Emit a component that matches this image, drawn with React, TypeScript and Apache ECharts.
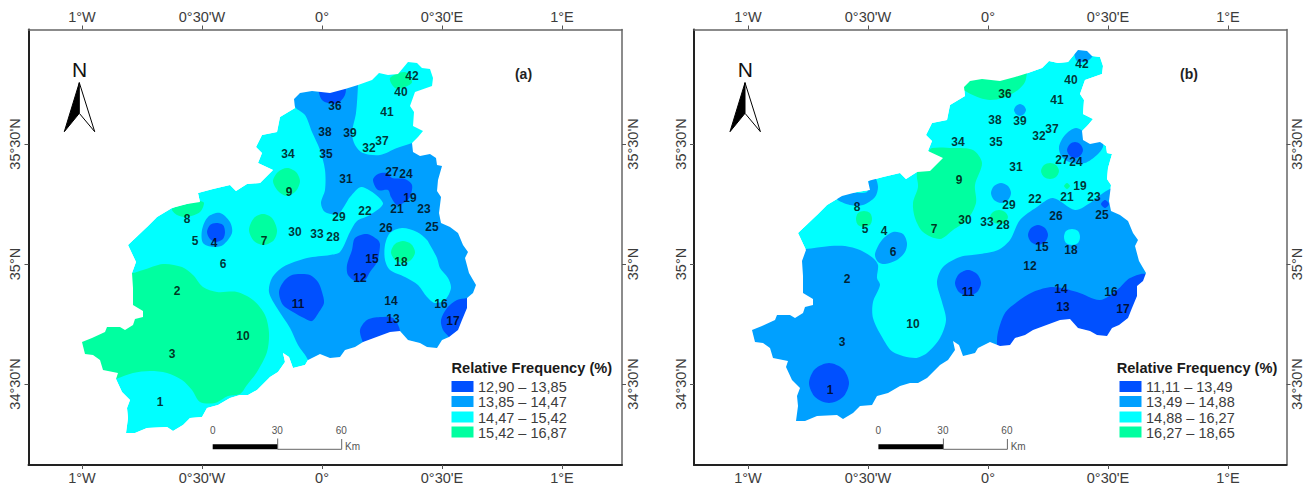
import React, { useEffect, useRef } from "react";
import * as echarts from "echarts";

// Map coordinates are quarter arc-minutes from 0 deg E / 35 deg N (240 units = 1 degree).
type Ring = number[][];

const lonTicks = [-240, -120, 0, 120, 240];
const lonLabels = ["1°W", "0°30'W", "0°", "0°30'E", "1°E"];
const latTicks = [-120, 0, 120];
const latLabels = ["34°30'N", "35°N", "35°30'N"];

const regionOutline: Ring = [
  [-28,165],[-22,171],[-10,173],[8,171],[23,175],[36,179],[50,184],[57,191],[66,189],[76,190],[86,202],[95,201],[100,196],[108,195],[111,186],[110,178],[93,172],[88,158],[92,152],[91,138],[101,133],[96,127],[90,121],[91,112],[98,108],[108,110],[114,106],[115,99],[120,98],[116,84],[115,73],[119,67],[117,51],[119,41],[128,37],[136,31],[141,19],[146,12],[143,6],[147,-9],[154,-21],[151,-29],[145,-34],[145,-44],[140,-56],[136,-66],[127,-73],[120,-76],[115,-84],[105,-83],[98,-79],[86,-76],[78,-67],[68,-68],[41,-78],[33,-83],[23,-86],[18,-93],[8,-94],[-2,-90],[-14,-96],[-17,-101],[-29,-104],[-33,-93],[-39,-89],[-37,-98],[-44,-108],[-52,-113],[-65,-126],[-74,-131],[-82,-131],[-92,-134],[-104,-141],[-115,-144],[-120,-153],[-132,-154],[-139,-161],[-149,-167],[-155,-163],[-175,-164],[-187,-169],[-196,-169],[-194,-154],[-195,-144],[-192,-136],[-200,-128],[-206,-115],[-204,-109],[-219,-106],[-222,-96],[-229,-91],[-237,-90],[-240,-78],[-230,-74],[-217,-68],[-215,-63],[-202,-63],[-197,-66],[-189,-61],[-187,-55],[-179,-53],[-179,-47],[-189,-41],[-189,-24],[-190,-9],[-186,2],[-194,19],[-175,37],[-165,47],[-150,56],[-135,60],[-122,62],[-124,71],[-109,75],[-92,79],[-86,73],[-75,80],[-62,81],[-49,94],[-64,101],[-60,111],[-66,117],[-60,129],[-45,132],[-42,147],[-27,156],
];

const stationIds = [1,2,3,4,5,6,7,8,9,10,11,12,13,14,15,16,17,18,19,21,22,23,24,25,26,27,28,29,30,31,32,33,34,35,36,37,38,39,40,41,42];
const stationLon = [-162,-145,-150,-108,-127,-99,-58,-135,-33,-79,-24,38,71,69,50,119,131,79,88,75,43,102,84,110,64,70,11,17,-27,24,47,-5,-34,4,13,60,3,28,79,65,90];
const stationLat = [-138,-27,-90,21,23,0,23,45,72,-72,-40,-14,-55,-37,5,-40,-57,2,66,55,53,55,90,37,36,92,27,47,32,85,116,30,110,110,158,123,132,131,172,152,188];

// panel (a) classes
const a_mid: Ring = [[-37,179],[-27,157],[-17,149],[-10,132],[-2,114],[3,94],[3,74],[-1,61],[3,52],[16,50],[23,59],[28,67],[40,77],[61,61],[48,49],[35,43],[28,32],[18,12],[8,9],[-15,6],[-39,-3],[-50,-14],[-53,-28],[-45,-44],[-32,-64],[-24,-81],[-14,-96],[-10,-115],[180,-115],[180,190],[-37,190]];
const a_cyanNorth: Ring = [[36,194],[36,179],[34,151],[30,131],[33,119],[41,111],[58,109],[75,116],[90,121],[118,134],[118,204],[33,204]];
const a_cyan18: Ring = [[63,19],[68,31],[80,36],[95,32],[105,24],[108,19],[115,6],[118,-4],[126,-14],[129,-24],[123,-36],[113,-39],[105,-33],[96,-21],[83,-13],[68,-6],[63,4]];
const a_mid4: Ring = [[-120,34],[-114,47],[-102,51],[-92,42],[-90,31],[-99,19],[-109,17],[-119,21]];
const a_green42: Ring = [[68,186],[83,192],[90,182],[83,177],[73,176]];
const a_green18: Ring = [[69,12],[73,20],[81,23],[89,20],[93,12],[89,4],[81,1],[73,4]];
const a_green8: Ring = [[-150,55],[-135,60],[-122,63],[-118,61],[-122,52],[-135,47],[-145,49]];
const a_green9: Ring = [[-49,83],[-44,92],[-35,96],[-26,92],[-22,83],[-26,73],[-35,68],[-44,73]];
const a_green7: Ring = [[-59,50],[-50,46],[-45,34],[-48,24],[-58,19],[-68,23],[-73,34],[-68,46]];
const a_greenSW: Ring = [[-202,-6],[-190,-9],[-179,-6],[-159,0],[-140,-3],[-129,-11],[-119,-23],[-105,-28],[-85,-28],[-69,-36],[-57,-51],[-53,-69],[-55,-88],[-65,-108],[-75,-121],[-82,-130],[-94,-132],[-107,-139],[-122,-138],[-130,-126],[-140,-116],[-155,-109],[-172,-107],[-189,-109],[-206,-115],[-222,-121],[-262,-76]];
const a_dark15: Ring = [[58,19],[55,2],[48,-8],[43,-16],[35,-18],[26,-11],[25,-1],[30,14],[33,26],[45,30],[56,24]];
const a_dark13: Ring = [[38,-66],[41,-79],[43,-86],[73,-81],[78,-67],[71,-54],[58,-53],[45,-56]];
const a_dark17: Ring = [[145,-34],[135,-36],[125,-44],[119,-56],[121,-66],[127,-73],[133,-81],[168,-76],[158,-31]];
const a_dark11: Ring = [[-22,-10],[-12,-11],[-4,-18],[0,-28],[2,-39],[-3,-48],[-10,-57],[-18,-54],[-29,-48],[-39,-41],[-43,-28],[-38,-17],[-30,-11]];
const a_dark36: Ring = [[-3,171],[0,164],[6,161],[16,161],[23,169],[23,177],[8,184],[-3,179]];
const a_dark24: Ring = [[51,84],[56,90],[65,91],[70,86],[83,85],[90,79],[88,67],[83,62],[75,59],[69,67],[66,74],[56,74]];
const a_dark4: Ring = [[-115,32],[-112,39],[-106,41],[-99,39],[-97,32],[-99,25],[-106,22],[-112,25]];

// panel (b) classes
const b_mid: Ring = [[-270,12],[-183,15],[-158,18],[-143,18],[-128,14],[-115,6],[-110,-1],[-111,-14],[-108,-21],[-115,-38],[-115,-54],[-106,-73],[-95,-88],[-73,-94],[-61,-89],[-48,-74],[-42,-56],[-46,-38],[-51,-18],[-45,-3],[-28,7],[-8,10],[10,14],[22,24],[32,44],[49,57],[65,66],[87,54],[102,61],[120,74],[142,79],[192,-36],[12,-186],[-270,-186]];
const b_mid6: Ring = [[-106,24],[-95,32],[-85,30],[-81,21],[-83,12],[-91,4],[-103,0],[-110,2],[-113,10]];
const b_mid8: Ring = [[-151,65],[-140,71],[-121,72],[-120,82],[-113,86],[-110,77],[-113,67],[-125,59],[-138,59]];
const b_mid29: Ring = [[3,71],[6,78],[13,81],[20,78],[23,71],[20,64],[13,61],[6,64]];
const b_mid39: Ring = [[26,154],[28,158],[32,160],[36,158],[38,154],[36,150],[32,148],[28,150]];
const b_mid24: Ring = [[71,117],[77,129],[88,136],[100,130],[114,125],[115,117],[109,109],[97,101],[84,101],[74,107]];
const b_mid42: Ring = [[88,204],[97,202],[104,207],[107,219],[87,224]];
const b_cyan18: Ring = [[76,27],[78,33],[84,35],[90,33],[92,27],[90,21],[84,19],[78,21]];
const b_green36: Ring = [[-21,172],[-8,166],[2,164],[15,166],[30,174],[37,182],[39,191],[42,204],[-28,204],[-30,179]];
const b_green97: Ring = [[-60,111],[-56,116],[-35,116],[-15,114],[-6,101],[-13,79],[-12,61],[-21,44],[-35,34],[-48,25],[-65,32],[-73,46],[-75,61],[-70,77],[-71,91],[-63,102]];
const b_green5: Ring = [[-132,45],[-130,51],[-124,53],[-118,51],[-116,45],[-118,39],[-124,37],[-130,39]];
const b_green28: Ring = [[2,47],[5,52],[11,54],[17,52],[20,47],[17,42],[11,40],[5,42]];
const b_green27: Ring = [[53,93],[56,99],[62,101],[68,99],[71,93],[68,87],[62,85],[56,87]];
const b_green19: Ring = [[76,78],[79,81],[82,78],[79,75]];
const b_dark13: Ring = [[10,-68],[17,-49],[29,-38],[45,-28],[65,-23],[89,-28],[112,-36],[129,-26],[142,-14],[158,-10],[177,-26],[142,-106],[12,-106],[9,-81]];
const b_dark1: Ring = [[-179,-119],[-173,-105],[-159,-99],[-145,-105],[-139,-119],[-145,-133],[-159,-139],[-173,-133]];
const b_dark11: Ring = [[-33,-19],[-29,-10],[-20,-6],[-11,-10],[-7,-19],[-11,-28],[-20,-32],[-29,-28]];
const b_dark15: Ring = [[40,29],[43,36],[50,39],[57,36],[60,29],[57,22],[50,19],[43,22]];
const b_dark25: Ring = [[113,60],[117,64],[121,60],[117,56]];
const b_dark24: Ring = [[79,114],[82,120],[87,122],[92,120],[95,114],[92,108],[87,106],[82,108]];

const legendA = ["12,90 – 13,85", "13,85 – 14,47", "14,47 – 15,42", "15,42 – 16,87"];
const legendB = ["11,11 – 13,49", "13,49 – 14,88", "14,88 – 16,27", "16,27 – 18,65"];
const legendTitle = "Relative Frequency (%)";
const scaleLabels = ["0", "30", "60"];

const DARK = "#0050FF";
const MID = "#00A0FF";
const CYAN = "#00FFFF";
const GREEN = "#00FFA0";
const classColors = [DARK, MID, CYAN, GREEN];
const FONT = "'Liberation Sans', Arial, sans-serif";
const TXT = "#3c3c3c";

// Panel (b) was georeferenced slightly off from its graticule in the source figure.
const shiftB = [4, 12];

type Zone = { ring: Ring; fill: string };
const zonesA: Zone[] = [
  { ring: a_mid, fill: MID }, { ring: a_cyanNorth, fill: CYAN }, { ring: a_cyan18, fill: CYAN }, { ring: a_mid4, fill: MID },
  { ring: a_green42, fill: GREEN }, { ring: a_green18, fill: GREEN }, { ring: a_green8, fill: GREEN }, { ring: a_green9, fill: GREEN }, { ring: a_green7, fill: GREEN }, { ring: a_greenSW, fill: GREEN },
  { ring: a_dark15, fill: DARK }, { ring: a_dark13, fill: DARK }, { ring: a_dark17, fill: DARK }, { ring: a_dark11, fill: DARK }, { ring: a_dark36, fill: DARK }, { ring: a_dark24, fill: DARK }, { ring: a_dark4, fill: DARK },
];
const zonesB: Zone[] = [
  { ring: b_mid, fill: MID }, { ring: b_mid6, fill: MID }, { ring: b_mid8, fill: MID }, { ring: b_mid29, fill: MID }, { ring: b_mid39, fill: MID }, { ring: b_mid24, fill: MID }, { ring: b_mid42, fill: MID },
  { ring: b_cyan18, fill: CYAN },
  { ring: b_green36, fill: GREEN }, { ring: b_green97, fill: GREEN }, { ring: b_green5, fill: GREEN }, { ring: b_green28, fill: GREEN }, { ring: b_green27, fill: GREEN }, { ring: b_green19, fill: GREEN },
  { ring: b_dark13, fill: DARK }, { ring: b_dark1, fill: DARK }, { ring: b_dark11, fill: DARK }, { ring: b_dark15, fill: DARK }, { ring: b_dark25, fill: DARK }, { ring: b_dark24, fill: DARK },
];

const yMin = -201, yMax = 234.5;
const panels = [
  { left: 28.5, width: 593.5, xMin: -293.5, xMax: 300, shift: [0, 0], zones: zonesA, dx: 0, tag: "(a)", tagX: 523.5, legend: legendA, legendX: 451.5, titleX: 451.5, legendTextX: 478 },
  { left: 694, width: 592.5, xMin: -294, xMax: 298.5, shift: shiftB, zones: zonesB, dx: 665.7, tag: "(b)", tagX: 1189, legend: legendB, legendX: 1119.5, titleX: 1116.7, legendTextX: 1146 },
];

function polySeries(i: number, rings: { ring: Ring; fill: string; smooth?: number }[]) {
  return {
    type: "custom", coordinateSystem: "cartesian2d", xAxisIndex: i * 2, yAxisIndex: i * 2, clip: true, silent: true,
    data: rings.map((r, k) => [r.ring[0][0], r.ring[0][1], k]),
    encode: { x: 0, y: 1 },
    renderItem: (p: any, api: any) => {
      const r = rings[p.dataIndex];
      return { type: "polygon", shape: { points: r.ring.map((q) => api.coord(q)), smooth: r.smooth ?? 0 }, style: { fill: r.fill } };
    },
  };
}

function buildOption() {
  const grid: any[] = [], xAxis: any[] = [], yAxis: any[] = [], series: any[] = [], elements: any[] = [];
  const tickCommon = (line: any) => ({
    axisLine: { show: true, onZero: false, lineStyle: line },
    splitLine: { show: false },
    z: 10,
  });
  const labelStyle = { color: TXT, fontFamily: FONT, fontSize: 14.5 };
  const lonFmt = (v: number) => lonLabels[lonTicks.indexOf(v)] ?? "";
  const latFmt = (v: number) => latLabels[latTicks.indexOf(v)] ?? "";

  panels.forEach((p, i) => {
    grid.push({ left: p.left, top: 29.5, width: p.width, height: yMax - yMin, containLabel: false });
    ["bottom", "top"].forEach((pos) => {
      xAxis.push({
        type: "value", gridIndex: i, position: pos, min: p.xMin, max: p.xMax,
        ...tickCommon(pos === "bottom" ? { color: "#222", width: 2 } : { color: "#666", width: 1.5 }),
        axisTick: { show: true, length: 4, customValues: lonTicks, lineStyle: { color: "#555" } },
        axisLabel: { show: true, customValues: lonTicks, formatter: lonFmt, margin: 5, ...labelStyle },
      });
    });
    ["left", "right"].forEach((pos) => {
      yAxis.push({
        type: "value", gridIndex: i, position: pos, min: yMin, max: yMax,
        ...tickCommon(pos === "left" ? { color: "#222", width: 2 } : { color: "#666", width: 1.5 }),
        axisTick: { show: true, length: 4, customValues: latTicks, lineStyle: { color: "#555" } },
        axisLabel: { show: true, customValues: latTicks, formatter: latFmt, rotate: 90, margin: pos === "left" ? 6 : 3, ...labelStyle },
      });
    });

    const outline = regionOutline.map((q) => [q[0] + p.shift[0], q[1] + p.shift[1]]);
    const maskRing: Ring = [[p.xMin, yMax], [p.xMin, yMin], [p.xMax, yMin], [p.xMax, yMax], [p.xMin, yMax], ...outline, outline[0]];
    series.push(polySeries(i, [
      { ring: outline, fill: CYAN },
      ...p.zones.map((z) => ({ ...z, smooth: 0.3 })),
      { ring: maskRing, fill: "#fff" },
    ]));
    series.push({
      type: "scatter", xAxisIndex: i * 2, yAxisIndex: i * 2, symbol: "circle", symbolSize: 1, silent: true,
      itemStyle: { color: "rgba(0,0,0,0)" },
      data: stationIds.map((id, k) => ({ name: String(id), value: [stationLon[k] + p.shift[0], stationLat[k] + p.shift[1]] })),
      label: { show: true, position: "inside", formatter: "{b}", color: "#000", fontFamily: FONT, fontWeight: "bold", fontSize: 12 },
      labelLayout: { hideOverlap: false },
      z: 5,
    });

    // north arrow
    const ax = p.dx;
    elements.push({ type: "text", x: 79.7 + ax, y: 69.5, style: { text: "N", fill: "#111", font: `21px ${FONT}`, align: "center", verticalAlign: "middle" } });
    elements.push({ type: "polygon", shape: { points: [[79.3 + ax, 82.7], [79.3 + ax, 113.3], [64.3 + ax, 131.7]] }, style: { fill: "#000", stroke: "#000", lineWidth: 1 } });
    elements.push({ type: "polygon", shape: { points: [[79.3 + ax, 82.7], [79.3 + ax, 113.3], [94.7 + ax, 131.7]] }, style: { fill: "#fff", stroke: "#000", lineWidth: 1 } });
    elements.push({ type: "text", x: p.tagX, y: 74, style: { text: p.tag, fill: "#222", font: `bold 14px ${FONT}`, align: "center", verticalAlign: "middle" } });

    // legend
    elements.push({ type: "text", x: p.titleX, y: 368, style: { text: legendTitle, fill: "#1a1a1a", font: `bold 14.6px ${FONT}`, align: "left", verticalAlign: "middle" } });
    [381, 396, 411.5, 426.5].forEach((ty, k) => {
      elements.push({ type: "rect", shape: { x: p.legendX, y: ty, width: 22, height: 11 }, style: { fill: classColors[k] } });
      elements.push({ type: "text", x: p.legendTextX, y: ty + 6, style: { text: p.legend[k], fill: TXT, font: `14.5px ${FONT}`, align: "left", verticalAlign: "middle" } });
    });

    // scale bar
    elements.push({ type: "rect", shape: { x: 212.7 + ax, y: 444.3, width: 65, height: 5 }, style: { fill: "#000" } });
    elements.push({ type: "line", shape: { x1: 277.7 + ax, y1: 449.3, x2: 341.7 + ax, y2: 449.3 }, style: { stroke: "#666", lineWidth: 1 } });
    elements.push({ type: "line", shape: { x1: 277.7 + ax, y1: 438.5, x2: 277.7 + ax, y2: 449.3 }, style: { stroke: "#666", lineWidth: 1 } });
    elements.push({ type: "line", shape: { x1: 341.7 + ax, y1: 439, x2: 341.7 + ax, y2: 449.3 }, style: { stroke: "#666", lineWidth: 1 } });
    [212.7, 277.2, 341.2].forEach((sx, k) => {
      elements.push({ type: "text", x: sx + ax, y: 430.5, style: { text: scaleLabels[k], fill: "#555", font: `10px ${FONT}`, align: "center", verticalAlign: "middle" } });
    });
    elements.push({ type: "text", x: 345 + ax, y: 446, style: { text: "Km", fill: "#555", font: `10px ${FONT}`, align: "left", verticalAlign: "middle" } });
  });

  return { animation: false, backgroundColor: "#fff", grid, xAxis, yAxis, series, graphic: { elements: elements.map((e) => ({ ...e, z: 100 })) } };
}

export default function App() {
  const ref = useRef<HTMLDivElement>(null);
  useEffect(() => {
    const chart = echarts.init(ref.current!, undefined, { renderer: "svg" });
    chart.setOption(buildOption() as any);
    return () => chart.dispose();
  }, []);
  return <div ref={ref} style={{ position: "fixed", left: 0, top: 0, width: 1314, height: 489 }} />;
}
